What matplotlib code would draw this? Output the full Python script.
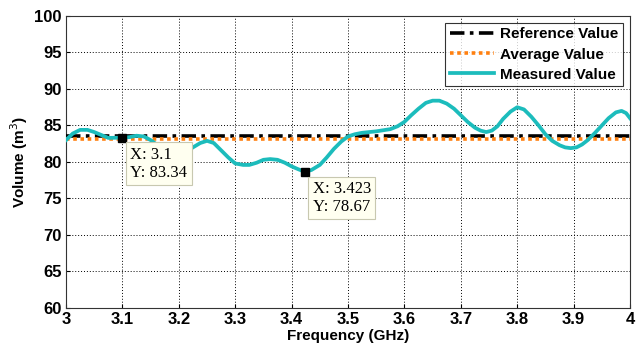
import matplotlib.pyplot as plt
import numpy as np

# readings
freq = [3.000, 3.012, 3.025, 3.038, 3.050, 3.075, 3.100, 3.112, 3.125, 3.138,
        3.150, 3.175, 3.190, 3.200, 3.212, 3.225, 3.238, 3.250, 3.262, 3.275,
        3.288, 3.300, 3.314, 3.325, 3.338, 3.350, 3.362, 3.375, 3.388, 3.400,
        3.412, 3.423, 3.435, 3.450, 3.462, 3.475, 3.488, 3.500, 3.512, 3.525,
        3.550, 3.575, 3.588, 3.600, 3.612, 3.625, 3.638, 3.650, 3.662, 3.675,
        3.688, 3.700, 3.712, 3.725, 3.735, 3.745, 3.755, 3.765, 3.775, 3.788,
        3.800, 3.812, 3.825, 3.838, 3.850, 3.862, 3.875, 3.885, 3.895, 3.905,
        3.915, 3.925, 3.938, 3.950, 3.962, 3.975, 3.985, 3.993, 4.000]
measured = [83.0, 83.9, 84.4, 84.4, 84.1, 83.3, 83.34, 83.4, 83.6, 83.5,
            83.0, 81.6, 80.9, 80.9, 81.3, 82.0, 82.6, 82.9, 82.6, 81.6,
            80.6, 79.8, 79.6, 79.6, 79.9, 80.3, 80.4, 80.3, 79.9, 79.4,
            79.0, 78.67, 78.9, 79.6, 80.6, 81.8, 82.8, 83.5, 83.8, 84.0,
            84.2, 84.5, 84.9, 85.5, 86.4, 87.3, 88.1, 88.4, 88.4, 88.0,
            87.3, 86.4, 85.5, 84.7, 84.3, 84.1, 84.3, 84.9, 85.9, 86.9,
            87.5, 87.2, 86.2, 85.0, 83.8, 82.9, 82.3, 82.0, 81.9, 82.0,
            82.4, 83.0, 84.0, 85.0, 86.0, 86.8, 87.0, 86.7, 86.0]
reference_value = 83.6
average_value = 83.2

tips = [(3.1, 83.34), (3.423, 78.67)]

plt.rcParams['font.family'] = ['Liberation Sans', 'DejaVu Sans']

fig = plt.figure(figsize=(6.36, 3.47), dpi=100)
ax = fig.add_axes([0.1038, 0.1124, 0.8868, 0.8415])

ax.plot([3, 4], [reference_value] * 2, color='black', linestyle=(0, (4, 1.5, 1, 1.5)),
        linewidth=2.6, label='Reference Value', zorder=3)
ax.plot([3, 4], [average_value] * 2, color='#ff8010', linestyle=(0, (1, 1)),
        linewidth=2.6, label='Average Value', zorder=3)
ax.plot(freq, measured, color='#1cbcbc', linewidth=2.7, label='Measured Value',
        solid_joinstyle='round', zorder=4)

ax.set_xlim(3, 4)
ax.set_ylim(60, 100)
ax.set_xticks(np.arange(3, 4.01, 0.1))
ax.set_xticklabels(['3', '3.1', '3.2', '3.3', '3.4', '3.5', '3.6', '3.7', '3.8', '3.9', '4'])
ax.set_yticks(np.arange(60, 101, 5))
ax.tick_params(labelsize=12, direction='in', length=3, pad=3)
for lbl in ax.get_xticklabels() + ax.get_yticklabels():
    lbl.set_fontweight('bold')
ax.grid(True, color='black', linestyle=(0, (1, 2)), linewidth=0.7)
for s in ax.spines.values():
    s.set_color('#333333')

ax.set_xlabel('Frequency (GHz)', fontsize=11, fontweight='bold', labelpad=1)
ax.set_ylabel('Volume (m$^3$)', fontsize=11, fontweight='bold', labelpad=3)

for x, y in tips:
    ax.plot(x, y, marker='s', color='black', markersize=6, zorder=6)
    ax.annotate('X: %g\nY: %.2f' % (x, y), xy=(x, y), xytext=(8, -9),
                textcoords='offset pixels', ha='left', va='top',
                fontsize=12, family='Liberation Serif', linespacing=1.2,
                bbox=dict(boxstyle='square,pad=0.25', facecolor='#fffff0',
                          edgecolor='#c8c8b0', linewidth=0.8), zorder=7)

leg = ax.legend(loc='upper right', prop={'weight': 'bold', 'size': 11},
                frameon=True, fancybox=False, borderaxespad=0.45, handlelength=2.9,
                labelspacing=0.4, borderpad=0.3, handletextpad=0.4)
leg.get_frame().set_edgecolor('black')
leg.get_frame().set_linewidth(0.8)

fig.savefig('out.png', dpi=100)
